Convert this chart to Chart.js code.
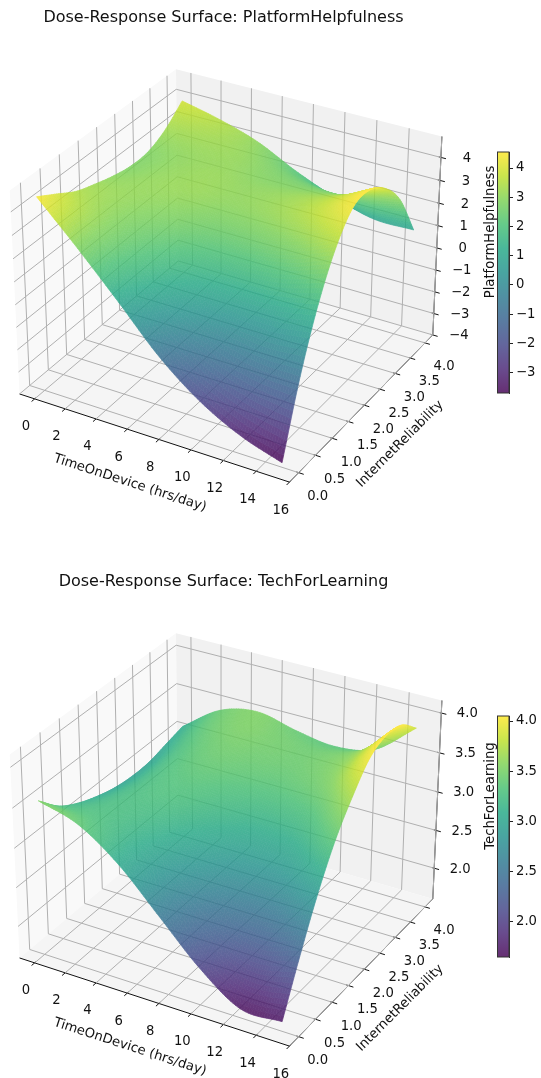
<!DOCTYPE html>
<html>
<head>
<meta charset="utf-8">
<title>Dose-Response Surfaces</title>
<script src="https://cdn.jsdelivr.net/npm/chart.js@4/dist/chart.umd.min.js"></script>
<style>
  html, body { margin: 0; padding: 0; background: #fff; }
  #page { position: relative; width: 541px; height: 1078px; overflow: hidden; filter: blur(0.4px); }
  canvas { position: absolute; }
</style>
</head>
<body>
<div id="page">
  <canvas id="surfaceA" style="left:0;top:0"></canvas>
  <canvas id="surfaceB" style="left:0;top:564px"></canvas>
  <canvas id="barA"></canvas>
  <canvas id="barB"></canvas>
</div>
<script>
// values
const xTicks = [0, 2, 4, 6, 8, 10, 12, 14, 16];
const yTicks = [0, 0.5, 1, 1.5, 2, 2.5, 3, 3.5, 4];
const zTicksA = [-4, -3, -2, -1, 0, 1, 2, 3, 4];
const zTicksB = [2, 2.5, 3, 3.5, 4];
const barTicksA = [-3, -2, -1, 0, 1, 2, 3, 4];
const barTicksB = [2, 2.5, 3, 3.5, 4];
const xLim = [-1, 16];
const yLim = [-0.267, 4.267];
const zLimA = [-4, 4.9];
const zLimB = [1.587, 4.155];
const colorRangeA = [-3.7, 4.55];
const colorRangeB = [1.65, 4.05];

const hours = [0, 2.5, 5, 7.5, 10, 12.5, 15];
const reliability = [0, 0.5, 1, 1.5, 2, 2.5, 3, 3.5, 4];
// one row per reliability value, one column per hours value
const helpfulness = [
  [4.5, 2.8, 1.0, -0.85, -2.25, -3.2, -3.8],
  [4.0, 2.94, 1.78, 0.54, -0.29, -0.71, -0.75],
  [3.5, 2.98, 2.35, 1.6, 1.23, 1.25, 1.65],
  [3.2, 3.07, 2.83, 2.44, 2.39, 2.69, 3.4],
  [2.95, 3.09, 3.11, 2.95, 3.09, 3.56, 4.45],
  [2.8, 3.04, 3.14, 3.04, 3.2, 3.65, 4.55],
  [2.85, 3.04, 3.09, 2.9, 2.94, 3.24, 4.0],
  [3.25, 3.24, 3.09, 2.67, 2.43, 2.42, 2.9],
  [3.95, 3.55, 3.0, 2.15, 1.45, 0.95, 0.95]
];
const techForLearning = [
  [3.55, 3.4, 3.05, 2.55, 2.05, 1.7, 1.71],
  [3.3, 3.29, 3.09, 2.72, 2.37, 2.19, 2.33],
  [3.15, 3.26, 3.18, 2.93, 2.7, 2.64, 2.9],
  [3.05, 3.25, 3.27, 3.12, 2.98, 3.01, 3.37],
  [2.98, 3.25, 3.34, 3.26, 3.19, 3.29, 3.72],
  [2.95, 3.27, 3.41, 3.38, 3.37, 3.52, 4.0],
  [2.96, 3.31, 3.47, 3.45, 3.45, 3.61, 4.1],
  [3.02, 3.37, 3.52, 3.47, 3.45, 3.6, 4.06],
  [3.08, 3.42, 3.53, 3.42, 3.35, 3.45, 3.85]
];

const viridis = [[68,1,84],[72,36,117],[65,68,135],[53,95,141],[42,120,142],[33,145,140],[34,168,132],[68,191,112],[122,209,81],[189,223,38],[253,231,37]];
const FONT = '"DejaVu Sans"';
const SCALE = 2597, CX = 230, CY = 265.7;
const TICK_SIZE = 13.2, TITLE_SIZE = 16;

function viridisAt(t, alpha) {
  t = Math.max(0, Math.min(1, t)) * 10;
  var i = Math.min(9, Math.floor(t)), f = t - i;
  var c = [0, 1, 2].map(k => Math.round(viridis[i][k] + (viridis[i + 1][k] - viridis[i][k]) * f));
  return alpha === undefined ? 'rgb(' + c + ')' : 'rgba(' + c + ',' + alpha + ')';
}

// same camera as matplotlib's default 3d axes: elev 30, azim -60, box 4:4:3
function boxCoords(x, y, z, zLim) {
  return [
    1.1905 * ((x - xLim[0]) / (xLim[1] - xLim[0]) - 0.5),
    1.1905 * ((y - yLim[0]) / (yLim[1] - yLim[0]) - 0.5),
    0.8929 * ((z - zLim[0]) / (zLim[1] - zLim[0]) - 0.5)
  ];
}
function depth(d) { return 0.433 * d[0] - 0.75 * d[1] + 0.5 * d[2]; }
function project(x, y, z, zLim) {
  var d = boxCoords(x, y, z, zLim), D = 10 - depth(d);
  return {
    x: (0.866 * d[0] + 0.5 * d[1]) / D,
    y: (-0.25 * d[0] + 0.433 * d[1] + 0.866 * d[2]) / D
  };
}

// smooth the table for drawing, like a line's tension
function spline(p0, p1, p2, p3, t) {
  return 0.5 * (2 * p1 + (p2 - p0) * t + (2 * p0 - 5 * p1 + 4 * p2 - p3) * t * t + (3 * p1 - p0 - 3 * p2 + p3) * t * t * t);
}
function at(arr, i) {
  if (i < 0) return 2 * arr[0] - arr[1];
  if (i >= arr.length) return 2 * arr[arr.length - 1] - arr[arr.length - 2];
  return arr[i];
}
function along(arr, u) {
  var i = Math.min(arr.length - 2, Math.floor(u));
  return spline(at(arr, i - 1), at(arr, i), at(arr, i + 1), at(arr, i + 2), u - i);
}
function fineSurface(table, nx, ny) {
  var rows = [];
  for (var j = 0; j <= ny; j++) {
    var v = j / ny * (reliability.length - 1), row = [];
    for (var i = 0; i <= nx; i++) {
      var u = i / nx * (hours.length - 1);
      row.push(along(table.map(r => along(r, u)), v));
    }
    rows.push(row);
  }
  return rows;
}

function gridDatasets(zTicks, zLim) {
  var sets = [];
  var g = (pts, color, w) => sets.push({
    data: pts.map(p => project(p[0], p[1], p[2], zLim)),
    showLine: true, pointRadius: 0, borderColor: color, borderWidth: w, tension: 0
  });
  var [x0, x1] = xLim, [y0, y1] = yLim, [z0, z1] = zLim;
  var dy = (y1 - y0) * 0.018, dx = (x1 - x0) * 0.018, inY = (y1 - y0) * 0.008, inX = (x1 - x0) * 0.008;
  xTicks.forEach(x => g([[x, y0, z0], [x, y1, z0], [x, y1, z1]], '#b0b0b0', 1));
  yTicks.forEach(y => g([[x1, y, z0], [x0, y, z0], [x0, y, z1]], '#b0b0b0', 1));
  zTicks.forEach(z => g([[x0, y0, z], [x0, y1, z], [x1, y1, z]], '#b0b0b0', 1));
  // axis lines and tick marks
  g([[x0, y0, z0], [x1, y0, z0]], '#111', 1);
  g([[x1, y0, z0], [x1, y1, z0]], '#111', 1);
  g([[x1, y1, z0], [x1, y1, z1]], '#111', 1);
  xTicks.forEach(x => g([[x, y0 - dy, z0], [x, y0 + inY, z0]], '#111', 1));
  yTicks.forEach(y => g([[x1 - inX, y, z0], [x1 + dx, y, z0]], '#111', 1));
  zTicks.forEach(z => g([[x1 - inX, y1, z], [x1 + dx, y1, z]], '#111', 1));
  return sets;
}

function panePlugin(zLim) {
  var [x0, x1] = xLim, [y0, y1] = yLim, [z0, z1] = zLim;
  var panes = [
    ['#f9f9f9', [[x0, y0, z0], [x0, y1, z0], [x0, y1, z1], [x0, y0, z1]]],
    ['#f1f1f1', [[x0, y1, z0], [x1, y1, z0], [x1, y1, z1], [x0, y1, z1]]],
    ['#f5f5f5', [[x0, y0, z0], [x1, y0, z0], [x1, y1, z0], [x0, y1, z0]]]
  ];
  return {
    id: 'panes',
    beforeDatasetsDraw(chart) {
      var c = chart.ctx, sx = chart.scales.x, sy = chart.scales.y;
      panes.forEach(p => {
        c.fillStyle = p[0];
        c.beginPath();
        p[1].forEach(q => {
          var s = project(q[0], q[1], q[2], zLim);
          c.lineTo(sx.getPixelForValue(s.x), sy.getPixelForValue(s.y));
        });
        c.closePath();
        c.fill();
      });
    }
  };
}

function surfacePlugin(table, zLim, range) {
  var nx = 96, ny = 96, rows = fineSurface(table, nx, ny);
  var xAt = i => hours[0] + (hours[hours.length - 1] - hours[0]) * i / nx;
  var yAt = j => reliability[0] + (reliability[reliability.length - 1] - reliability[0]) * j / ny;
  return {
    id: 'surface',
    afterDatasetsDraw(chart) {
      var sx = chart.scales.x, sy = chart.scales.y, ratio = chart.currentDevicePixelRatio;
      var off = document.createElement('canvas');
      off.width = chart.canvas.width;
      off.height = chart.canvas.height;
      var c = off.getContext('2d');
      c.scale(ratio, ratio);
      c.lineWidth = 0.7;
      c.lineJoin = 'round';
      var quads = [];
      for (var j = 0; j < ny; j++) for (var i = 0; i < nx; i++) {
        var mean = (rows[j][i] + rows[j][i + 1] + rows[j + 1][i] + rows[j + 1][i + 1]) / 4;
        var d = boxCoords(xAt(i + 0.5), yAt(j + 0.5), mean, zLim);
        quads.push({ i: i, j: j, mean: mean, far: depth(d) });
      }
      quads.sort((a, b) => a.far - b.far);
      var px = (i, j) => {
        var s = project(xAt(i), yAt(j), rows[j][i], zLim);
        return [sx.getPixelForValue(s.x), sy.getPixelForValue(s.y)];
      };
      quads.forEach(q => {
        var col = viridisAt((q.mean - range[0]) / (range[1] - range[0]));
        c.fillStyle = col;
        c.strokeStyle = col;
        c.beginPath();
        [[q.i, q.j], [q.i + 1, q.j], [q.i + 1, q.j + 1], [q.i, q.j + 1]].forEach(k => {
          var p = px(k[0], k[1]);
          c.lineTo(p[0], p[1]);
        });
        c.closePath();
        c.fill();
        c.stroke();
      });
      var ctx = chart.ctx;
      ctx.save();
      ctx.globalAlpha = 0.82;
      ctx.setTransform(1, 0, 0, 1, 0, 0);
      ctx.drawImage(off, 0, 0);
      ctx.restore();
    }
  };
}

function labelPlugin(title, zName, zTicks, zLim, zFmt) {
  return {
    id: 'labels',
    afterDraw(chart) {
      var c = chart.ctx, sx = chart.scales.x, sy = chart.scales.y;
      var at3d = (x, y, z) => {
        var s = project(x, y, z, zLim);
        return [sx.getPixelForValue(s.x), sy.getPixelForValue(s.y)];
      };
      var text = (t, x, y, size, rot) => {
        c.save();
        c.translate(x, y);
        c.rotate((rot || 0) * Math.PI / 180);
        c.font = size + 'px ' + FONT;
        c.fillStyle = '#111';
        c.textAlign = 'center';
        c.textBaseline = 'middle';
        c.fillText(t, 0, 0);
        c.restore();
      };
      text(title, 223.5, 18, TITLE_SIZE);
      xTicks.forEach(v => { var p = at3d(v, yLim[0], zLim[0]); text(String(v), p[0] - 8.6, p[1] + 28, TICK_SIZE); });
      yTicks.forEach(v => { var p = at3d(xLim[1], v, zLim[0]); text(v.toFixed(1), p[0] + 19, p[1] + 24, TICK_SIZE); });
      zTicks.forEach(v => { var p = at3d(xLim[1], yLim[1], v); text(zFmt(v), p[0] + 26, p[1] + 1, TICK_SIZE); });
      text('TimeOnDevice (hrs/day)', 130, 483, TICK_SIZE, 18);
      text('InternetReliability', 400, 444, TICK_SIZE, -45);
      text(zName, 491, 232, TICK_SIZE, -90);
    }
  };
}

function surfaceChart(id, height, table, zTicks, zLim, range, title, zName, zFmt) {
  var canvas = document.getElementById(id);
  canvas.width = 541;
  canvas.height = height;
  canvas.style.width = '541px';
  canvas.style.height = height + 'px';
  new Chart(canvas, {
    type: 'scatter',
    data: { datasets: gridDatasets(zTicks, zLim) },
    options: {
      responsive: false,
      animation: false,
      events: [],
      layout: { padding: 0 },
      plugins: { legend: { display: false }, tooltip: { enabled: false } },
      scales: {
        x: { display: false, min: -CX / SCALE, max: (541 - CX) / SCALE },
        y: { display: false, min: (CY - height) / SCALE, max: CY / SCALE }
      }
    },
    plugins: [panePlugin(zLim), surfacePlugin(table, zLim, range), labelPlugin(title, zName, zTicks, zLim, zFmt)]
  });
}

function colorBar(id, top, height, range, ticks, fmt) {
  var pad = 14, left = 497, barW = 12, axisW = 32;
  var canvas = document.getElementById(id);
  canvas.width = barW + axisW;
  canvas.height = height + pad * 2;
  canvas.style.left = left + 'px';
  canvas.style.top = (top - pad) + 'px';
  canvas.style.width = (barW + axisW) + 'px';
  canvas.style.height = (height + pad * 2) + 'px';
  new Chart(canvas, {
    type: 'bar',
    data: {
      labels: [''],
      datasets: [{
        data: [range],
        barPercentage: 1,
        categoryPercentage: 1,
        borderWidth: 0,
        backgroundColor(ctx) {
          var area = ctx.chart.chartArea;
          if (!area) return '#888';
          var g = ctx.chart.ctx.createLinearGradient(0, area.bottom, 0, area.top);
          for (var k = 0; k <= 10; k++) g.addColorStop(k / 10, viridisAt(k / 10, 0.82));
          return g;
        }
      }]
    },
    options: {
      responsive: false,
      animation: false,
      events: [],
      layout: { padding: { top: pad, bottom: pad } },
      plugins: { legend: { display: false }, tooltip: { enabled: false } },
      scales: {
        x: { display: false },
        y: {
          position: 'right',
          min: range[0],
          max: range[1],
          afterFit(axis) { axis.width = axisW; },
          afterBuildTicks(axis) { axis.ticks = ticks.map(v => ({ value: v })); },
          grid: { drawOnChartArea: false, drawTicks: true, tickLength: 4, color: '#222' },
          border: { color: '#333', width: 1 },
          ticks: {
            autoSkip: false,
            padding: 3,
            color: '#111',
            font: { family: FONT, size: TICK_SIZE },
            callback: v => fmt(v)
          }
        }
      }
    },
    plugins: [{
      id: 'outline',
      afterDraw(chart) {
        var a = chart.chartArea, c = chart.ctx;
        c.save();
        c.strokeStyle = '#333';
        c.lineWidth = 1;
        c.strokeRect(a.left + 0.5, a.top, a.right - a.left - 0.5, a.bottom - a.top);
        c.restore();
      }
    }]
  });
}

var intFmt = v => String(v).replace('-', '\u2212');
var oneFmt = v => v.toFixed(1);

surfaceChart('surfaceA', 564, helpfulness, zTicksA, zLimA, colorRangeA,
  'Dose-Response Surface: PlatformHelpfulness', 'PlatformHelpfulness', intFmt);
surfaceChart('surfaceB', 514, techForLearning, zTicksB, zLimB, colorRangeB,
  'Dose-Response Surface: TechForLearning', 'TechForLearning', oneFmt);
colorBar('barA', 152, 241, colorRangeA, barTicksA, intFmt);
colorBar('barB', 716, 241, colorRangeB, barTicksB, oneFmt);
</script>
</body>
</html>
